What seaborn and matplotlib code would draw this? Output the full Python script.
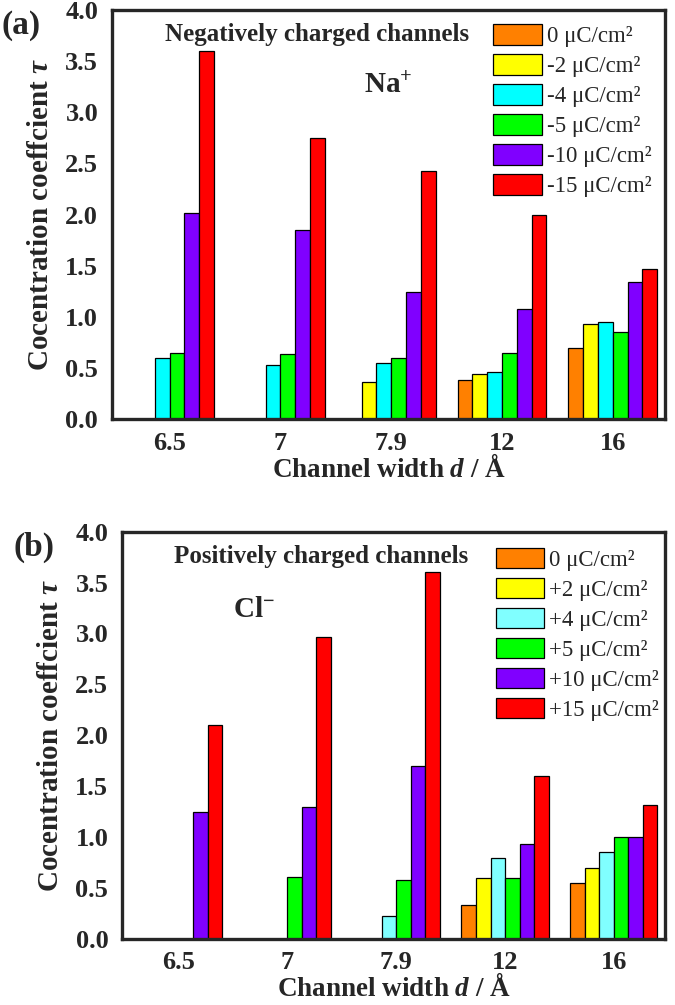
import matplotlib
matplotlib.use("Agg")
import matplotlib.pyplot as plt
import numpy as np
import pandas as pd
import seaborn as sns

WIDTHS = ["6.5", "7", "7.9", "12", "16"]

NEG_LEVELS = ["0 μC/cm²", "-2 μC/cm²", "-4 μC/cm²", "-5 μC/cm²", "-10 μC/cm²", "-15 μC/cm²"]
POS_LEVELS = ["0 μC/cm²", "+2 μC/cm²", "+4 μC/cm²", "+5 μC/cm²", "+10 μC/cm²", "+15 μC/cm²"]

NaN = np.nan
# (a) Na+ in negatively charged channels, one list per surface charge
NA_0 = [NaN, NaN, NaN, 0.38, 0.70]
NA_2 = [NaN, NaN, 0.36, 0.44, 0.93]
NA_4 = [0.60, 0.53, 0.55, 0.46, 0.95]
NA_5 = [0.65, 0.64, 0.60, 0.65, 0.85]
NA_10 = [2.02, 1.85, 1.24, 1.08, 1.34]
NA_15 = [3.60, 2.75, 2.43, 2.00, 1.47]

# (b) Cl- in positively charged channels
CL_0 = [NaN, NaN, NaN, 0.33, 0.55]
CL_2 = [NaN, NaN, NaN, 0.60, 0.70]
CL_4 = [NaN, NaN, 0.23, 0.80, 0.85]
CL_5 = [NaN, 0.61, 0.58, 0.60, 1.00]
CL_10 = [1.25, 1.30, 1.70, 0.93, 1.00]
CL_15 = [2.10, 2.97, 3.60, 1.60, 1.32]

COLORS_A = ["#FF8000", "#FFFF00", "#00FFFF", "#00FF00", "#8000FF", "#FF0000"]
COLORS_B = ["#FF8000", "#FFFF00", "#80FFFF", "#00FF00", "#8000FF", "#FF0000"]


def long_frame(levels, series):
    rows = []
    for lvl, vals in zip(levels, series):
        for w, v in zip(WIDTHS, vals):
            rows.append({"width": w, "charge": lvl, "tau": v})
    return pd.DataFrame(rows).dropna()


def draw_panel(ax, df, levels, colors, title, ion, ion_xy, tag, legend_top):
    sns.barplot(data=df, x="width", y="tau", hue="charge", order=WIDTHS,
                hue_order=levels, palette=colors, edgecolor="black",
                linewidth=0.9, saturation=1, width=0.8, ax=ax)
    ax.set_xlim(-0.52, 4.47)
    ax.set_ylim(0, 4.0)
    ticks = np.arange(0, 4.01, 0.5)
    ax.set_yticks(ticks)
    ax.set_yticklabels([f"{t:.1f}" for t in ticks])
    for s in ax.spines.values():
        s.set_linewidth(2.4)
        s.set_visible(True)
    ax.tick_params(direction="out", length=6, width=2.2, labelsize=19, pad=4)
    ax.tick_params(axis="x", pad=3)
    for lab in ax.get_xticklabels() + ax.get_yticklabels():
        lab.set_fontweight("bold")
    ax.set_xlabel("Channel width $d$ / Å", fontsize=19.5, fontweight="bold", labelpad=0)
    ax.set_ylabel("Cocentration coeffcient $\\tau$", fontsize=21, fontweight="bold", labelpad=8)

    handles, labels = ax.get_legend_handles_labels()
    ax.legend(handles, labels, loc="upper left", bbox_to_anchor=(legend_top[0], legend_top[1]),
              bbox_transform=ax.transAxes, frameon=False, fontsize=16.5,
              handlelength=2.1, handleheight=1.0, handletextpad=0.22,
              labelspacing=0.3, borderaxespad=0, borderpad=0)

    ax.text(0.095, 0.94, title, transform=ax.transAxes, fontsize=18,
            fontweight="bold", va="center", ha="left")
    ax.text(ion_xy[0], ion_xy[1], ion, transform=ax.transAxes, fontsize=21,
            fontweight="bold", va="center", ha="left")
    ax.text(-0.2, 1.0, tag, transform=ax.transAxes, fontsize=24,
            fontweight="bold", va="top", ha="left")


sns.set_style("white")
plt.rcParams["font.family"] = ["Liberation Serif", "DejaVu Serif"]
plt.rcParams["mathtext.fontset"] = "custom"
plt.rcParams["mathtext.rm"] = "Liberation Serif:bold"
plt.rcParams["mathtext.it"] = "Liberation Serif:bold:italic"
plt.rcParams["mathtext.bf"] = "Liberation Serif:bold"

fig = plt.figure(figsize=(6.75, 10.05), dpi=100)
ax_a = fig.add_axes([0.166, 0.583, 0.819, 0.407])
ax_b = fig.add_axes([0.181, 0.0657, 0.804, 0.4053])

df_a = long_frame(NEG_LEVELS, [NA_0, NA_2, NA_4, NA_5, NA_10, NA_15])
df_b = long_frame(POS_LEVELS, [CL_0, CL_2, CL_4, CL_5, CL_10, CL_15])

draw_panel(ax_a, df_a, NEG_LEVELS, COLORS_A, "Negatively charged channels",
           "Na$^{+}$", (0.455, 0.815), "(a)", (0.69, 0.965))
draw_panel(ax_b, df_b, POS_LEVELS, COLORS_B, "Positively charged channels",
           "Cl$^{-}$", (0.205, 0.81), "(b)", (0.688, 0.96))

fig.savefig("out.png", dpi=100)
